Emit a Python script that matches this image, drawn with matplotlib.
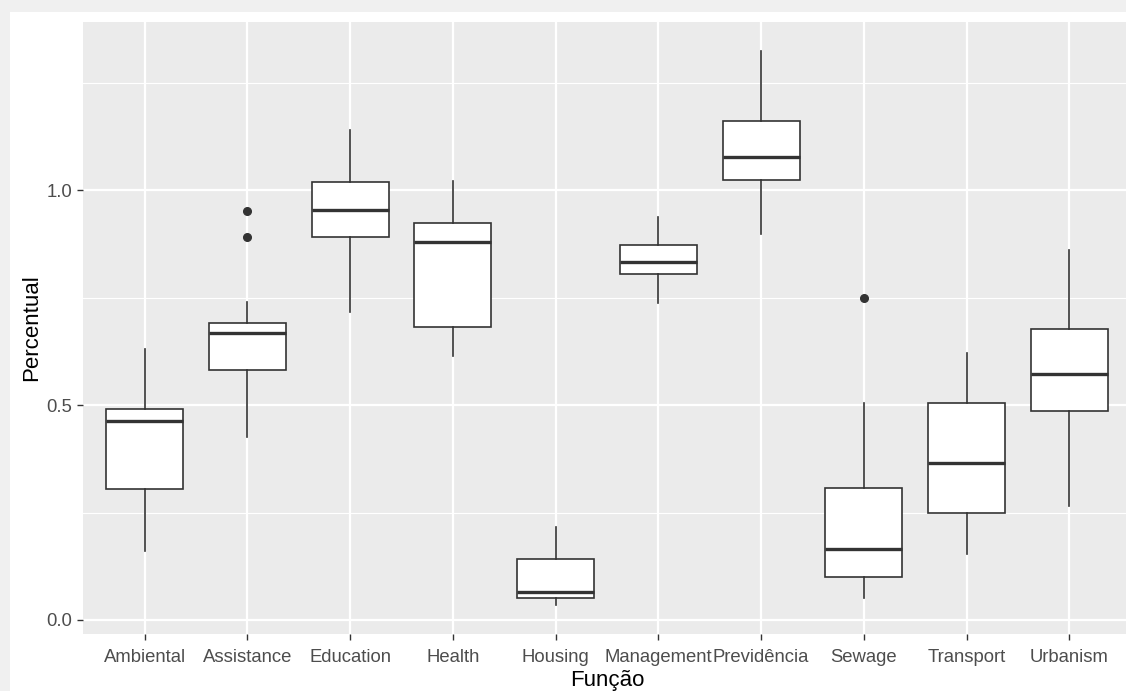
import matplotlib
matplotlib.use('Agg')
import matplotlib.pyplot as plt
from matplotlib.patches import Rectangle

plt.rcParams['font.family'] = ['Liberation Sans', 'DejaVu Sans']

# box summary stats
categories = ['Ambiental', 'Assistance', 'Education', 'Health', 'Housing',
              'Management', 'Previdência', 'Sewage', 'Transport', 'Urbanism']
whislo = [0.160, 0.425, 0.717, 0.613, 0.035, 0.738, 0.899, 0.050, 0.153, 0.264]
q1     = [0.305, 0.581, 0.890, 0.681, 0.050, 0.804, 1.023, 0.100, 0.250, 0.485]
med    = [0.462, 0.668, 0.953, 0.879, 0.066, 0.833, 1.077, 0.166, 0.366, 0.572]
q3     = [0.491, 0.690, 1.019, 0.924, 0.142, 0.872, 1.160, 0.306, 0.505, 0.677]
whishi = [0.630, 0.740, 1.140, 1.021, 0.216, 0.938, 1.323, 0.505, 0.622, 0.860]
fliers = [[], [0.952, 0.890], [], [], [], [], [], [0.749], [], []]

stats = []
for i in range(len(categories)):
    stats.append(dict(label=categories[i], whislo=whislo[i], q1=q1[i], med=med[i],
                      q3=q3[i], whishi=whishi[i], fliers=fliers[i]))

W, H = 1126, 691
fig = plt.figure(figsize=(W / 100, H / 100), dpi=100)
fig.patch.set_facecolor('#f0f0f0')
fig.add_artist(Rectangle((10 / W, 0), 1, (H - 12) / H, transform=fig.transFigure,
                         facecolor='white', edgecolor='none', zorder=-1))

ax = fig.add_axes([83 / W, 57 / H, 1048 / W, 612 / H])
ax.set_facecolor('#ebebeb')

line_c = '#333333'
ax.bxp(stats, positions=range(1, 11), widths=0.75, patch_artist=True,
       showcaps=False,
       boxprops=dict(facecolor='white', edgecolor=line_c, linewidth=1.2),
       whiskerprops=dict(color=line_c, linewidth=1.2),
       medianprops=dict(color=line_c, linewidth=2.4, solid_capstyle='butt'),
       flierprops=dict(marker='o', markerfacecolor=line_c, markeredgecolor=line_c,
                       markersize=5.5, linestyle='none'),
       zorder=3)

ax.set_xlim(0.4, 10.6)
ax.set_ylim(-0.0326, 1.391)
ax.set_yticks([0.0, 0.5, 1.0])
ax.set_yticklabels(['0.0', '0.5', '1.0'])
ax.set_yticks([0.25, 0.75, 1.25], minor=True)
ax.set_xticks(range(1, 11))
ax.set_xticklabels(categories)

ax.grid(which='major', color='white', linewidth=1.6, zorder=0)
ax.grid(which='minor', axis='y', color='white', linewidth=0.8, zorder=0)
ax.set_axisbelow(True)
for s in ax.spines.values():
    s.set_visible(False)

ax.tick_params(which='major', length=4.5, width=1.0, color=line_c,
               labelcolor='#4d4d4d', labelsize=13.3, pad=3)
ax.tick_params(axis='x', which='major', pad=6)
ax.tick_params(which='minor', length=0)

ax.set_xlabel('Função', fontsize=16, color='black', labelpad=3.5)
ax.set_ylabel('Percentual', fontsize=16, color='black', labelpad=3)

fig.savefig('out.png', dpi=100, facecolor=fig.get_facecolor())
